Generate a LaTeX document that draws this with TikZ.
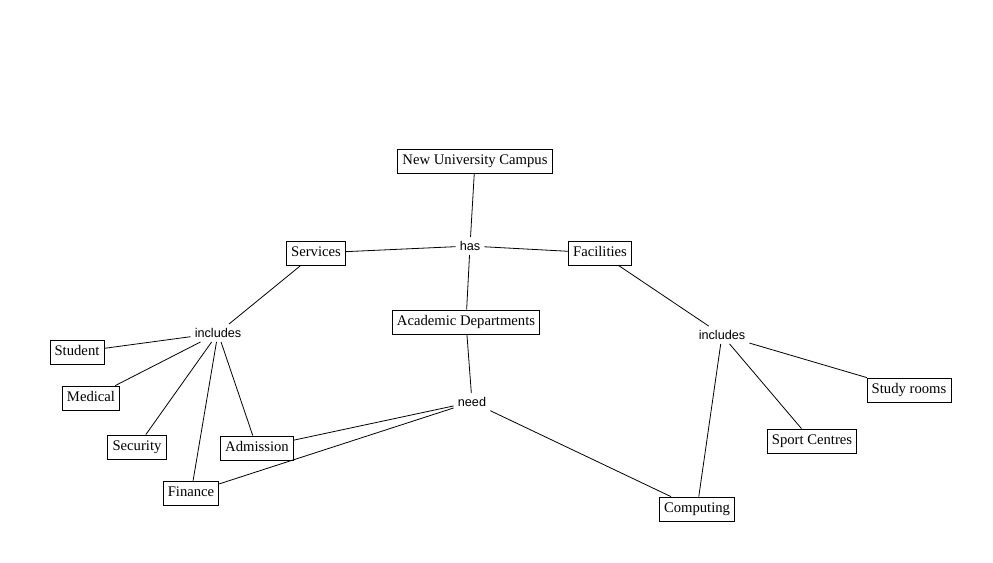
\documentclass[tikz,border=0pt]{standalone}
\usepackage{fontspec}
\setmainfont{Liberation Serif}
\newfontfamily\linkfont{Liberation Sans}
\usetikzlibrary{positioning}

\begin{document}
\begin{tikzpicture}[x=0.75pt, y=-0.75pt,
  concept/.style={draw, line width=0.6pt, font=\fontsize{11}{13}\selectfont, inner xsep=3.5pt, inner ysep=4pt, text height=7.6pt, text depth=2.4pt},
  linker/.style={font=\linkfont\fontsize{9.5}{11}\selectfont, inner sep=3pt},
  link/.style={line width=0.6pt}]
  \useasboundingbox (0,0) rectangle (993,562);
  % concepts
  \node[concept] (campus) at (475,161) {New University Campus};
  \node[concept] (services) at (316,253) {Services};
  \node[concept] (facilities) at (600,253) {Facilities};
  \node[concept] (academic) at (466,322) {Academic Departments};
  \node[concept] (student) at (77,352) {Student};
  \node[concept] (medical) at (91,398) {Medical};
  \node[concept] (security) at (137,447) {Security};
  \node[concept] (admission) at (257,448) {Admission};
  \node[concept] (finance) at (191,493) {Finance};
  \node[concept] (study) at (909,390) {Study rooms};
  \node[concept] (sport) at (812,441) {Sport Centres};
  \node[concept] (computing) at (697,509) {Computing};
  % linking phrases
  \node[linker] (has) at (470,246) {has};
  \node[linker] (inclS) at (218,333) {includes};
  \node[linker] (inclF) at (722,335) {includes};
  \node[linker] (need) at (472,402) {need};
  % has
  \foreach \n in {campus, services, facilities, academic}
    \draw[link] (has) -- (\n);
  % services includes
  \draw[link] (services) -- (inclS);
  \foreach \n in {student, medical, security, finance, admission}
    \draw[link] (inclS) -- (\n);
  % facilities includes
  \draw[link] (facilities) -- (inclF);
  \foreach \n in {study, sport, computing}
    \draw[link] (inclF) -- (\n);
  % need
  \draw[link] (academic) -- (need);
  \foreach \n in {admission, finance, computing}
    \draw[link] (need) -- (\n);
\end{tikzpicture}
\end{document}
